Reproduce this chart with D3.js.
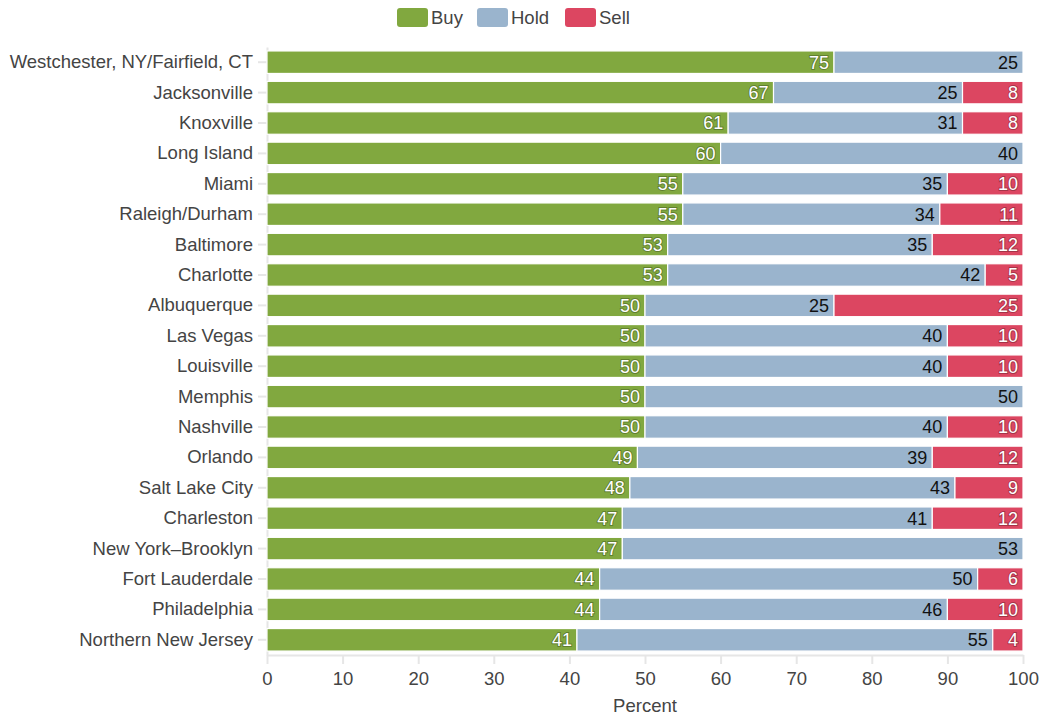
<!DOCTYPE html>
<html>
<head>
<meta charset="utf-8">
<script src="https://cdn.jsdelivr.net/npm/d3@7"></script>
<style>
	body { margin: 0; background: #fff; }
	svg { font-family: "Liberation Sans", Arial, sans-serif; }
	.axis path, .axis line { stroke: #e6e6e6; stroke-width: 2; }
	.axis text { fill: #444; font-size: 18.5px; }
	.bar-label { font-size: 18px; }
</style>
</head>
<body>
<svg id="chart"></svg>
<script>
const CITIES = [
	'Westchester, NY/Fairfield, CT', 'Jacksonville', 'Knoxville', 'Long Island', 'Miami',
	'Raleigh/Durham', 'Baltimore', 'Charlotte', 'Albuquerque', 'Las Vegas',
	'Louisville', 'Memphis', 'Nashville', 'Orlando', 'Salt Lake City',
	'Charleston', 'New York\u2013Brooklyn', 'Fort Lauderdale', 'Philadelphia', 'Northern New Jersey'
];
const BUY  = [75, 67, 61, 60, 55, 55, 53, 53, 50, 50, 50, 50, 50, 49, 48, 47, 47, 44, 44, 41];
const HOLD = [25, 25, 31, 40, 35, 34, 35, 42, 25, 40, 40, 50, 40, 39, 43, 41, 53, 50, 46, 55];
const SELL = [0, 8, 8, 0, 10, 11, 12, 5, 25, 10, 10, 0, 10, 12, 9, 12, 0, 6, 10, 4];

const SERIES = ['Buy', 'Hold', 'Sell'];
const COLORS = ['#81a83f', '#9ab4cd', '#dc4661'];
const TEXT_COLORS = ['#fff', '#111', '#fff'];
const X_TICKS = [0, 10, 20, 30, 40, 50, 60, 70, 80, 90, 100];

const SVG_WIDTH = 1041;
const SVG_HEIGHT = 717;
const MARGIN = { top: 47, right: 18, bottom: 62, left: 267 };
const WIDTH = SVG_WIDTH - MARGIN.left - MARGIN.right;
const HEIGHT = SVG_HEIGHT - MARGIN.top - MARGIN.bottom;

const x = d3.scaleLinear().domain([0, 100]).range([0, WIDTH]);
const y = d3.scaleBand().domain(CITIES).range([0, HEIGHT]).paddingInner(0.26).paddingOuter(0.13);

const rows = CITIES.map((city, i) => ({ city: city, Buy: BUY[i], Hold: HOLD[i], Sell: SELL[i] }));
const stacked = d3.stack().keys(SERIES)(rows);

const root = d3.select('#chart')
	.attr('width', SVG_WIDTH)
	.attr('height', SVG_HEIGHT);

const svg = root.append('g')
	.attr('transform', 'translate(' + MARGIN.left + ', ' + MARGIN.top + ')');

// axes
svg.append('g')
	.attr('class', 'axis')
	.attr('transform', 'translate(0, ' + HEIGHT + ')')
	.call(d3.axisBottom(x).tickValues(X_TICKS).tickSize(9).tickSizeOuter(0).tickPadding(5))
	.call(g => g.selectAll('text').attr('dy', '0.85em'));

svg.append('g')
	.attr('class', 'axis')
	.call(d3.axisLeft(y).tickSize(9).tickSizeOuter(0).tickPadding(5))
	.call(g => g.selectAll('text').attr('fill', '#333'));

// bars
const layers = svg.selectAll('.layer')
	.data(stacked)
	.enter()
	.append('g')
		.attr('class', 'layer')
		.attr('fill', (d, i) => COLORS[i]);

layers.selectAll('rect')
	.data(d => d.map(p => ({ p: p, city: p.data.city })))
	.enter()
	.filter(d => d.p[1] > d.p[0])
	.append('rect')
		.attr('x', d => x(d.p[0]))
		.attr('y', d => y(d.city))
		.attr('width', d => x(d.p[1]) - x(d.p[0]))
		.attr('height', y.bandwidth())
		.attr('stroke', '#fff')
		.attr('stroke-width', 1.2);

layers.each(function(layer, li) {
	const g = d3.select(this);
	g.selectAll('text')
		.data(layer.filter(p => p[1] > p[0]))
		.enter()
		.append('text')
			.attr('class', 'bar-label')
			.attr('x', p => x(p[1]) - 5)
			.attr('y', p => y(p.data.city) + y.bandwidth() / 2)
			.attr('dy', '0.36em')
			.attr('text-anchor', 'end')
			.attr('fill', TEXT_COLORS[li])
			.attr('stroke', li === 1 ? 'none' : 'rgba(0,0,0,0.25)')
			.attr('stroke-width', 2)
			.attr('paint-order', 'stroke')
			.text(p => p[1] - p[0]);
});

// axis title
svg.append('text')
	.attr('text-anchor', 'middle')
	.attr('x', WIDTH / 2)
	.attr('y', HEIGHT + 57)
	.attr('fill', '#444')
	.style('font-size', '18.5px')
	.text('Percent');

// legend
const legendX = [397, 477, 565];
const legend = root.append('g')
	.selectAll('g')
	.data(SERIES)
	.enter()
	.append('g')
		.attr('transform', (d, i) => 'translate(' + legendX[i] + ', 8)');

legend.append('rect')
	.attr('width', 31)
	.attr('height', 19)
	.attr('rx', 3)
	.attr('fill', (d, i) => COLORS[i]);

legend.append('text')
	.attr('x', 34)
	.attr('y', 9.5)
	.attr('dy', '0.36em')
	.attr('fill', '#444')
	.style('font-size', '18.5px')
	.text(d => d);
</script>
</body>
</html>
